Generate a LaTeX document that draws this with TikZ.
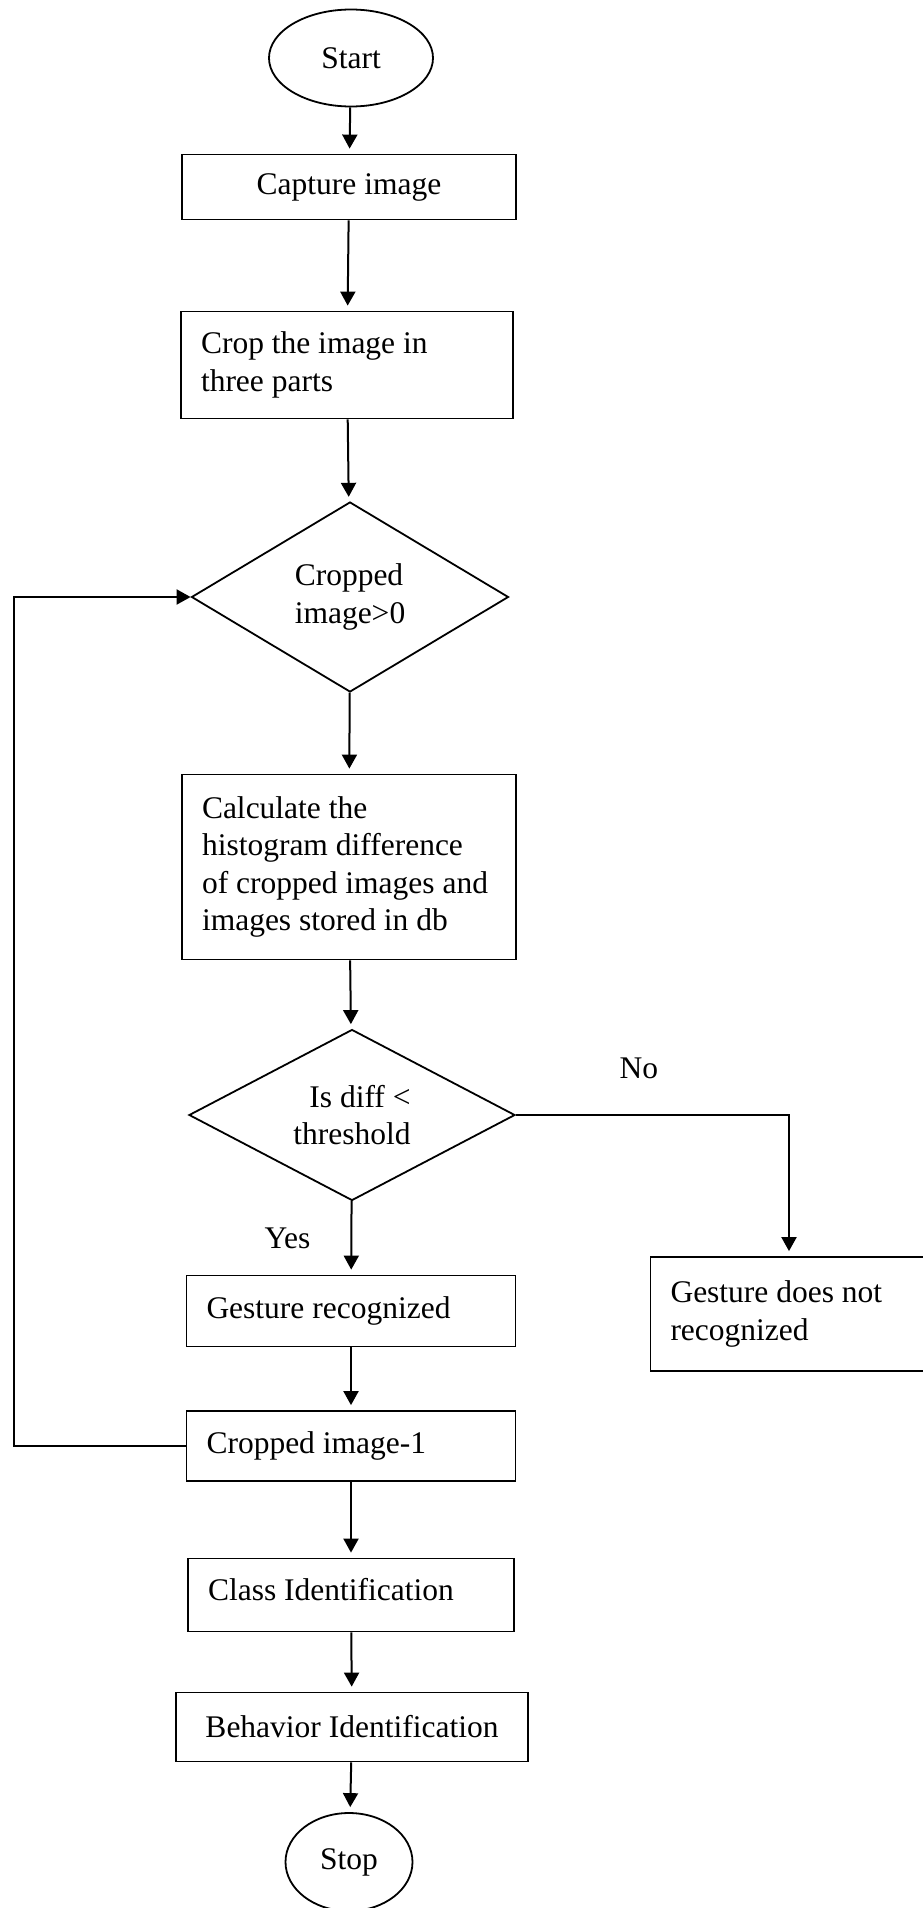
\documentclass[tikz,border=0pt]{standalone}
\usepackage{fontspec}
\setmainfont{Liberation Serif}
\usetikzlibrary{shapes.geometric, arrows.meta}

\tikzset{
    box/.style={draw, rectangle, line width=1.8pt, inner ysep=0pt},
    lbox/.style={box, align=flush left, inner xsep=20pt},
    term/.style={draw, ellipse, line width=1.8pt, inner sep=0pt},
    cond/.style={draw, diamond, shape aspect=2, line width=1.8pt, inner sep=0pt},
    arr/.style={line width=2pt, -{Triangle[length=14pt, width=15pt]}, shorten >=5pt},
    lbl/.style={inner sep=0pt}
}

\begin{document}
\begin{tikzpicture}[x=1pt, y=-1pt, font=\fontsize{31.5}{37.5}\selectfont]
    % Поле рисунка
    \useasboundingbox (0,0) rectangle (923,1908);

    % Блоки
    \node[term, minimum width=164pt, minimum height=97pt] (start) at (351,58) {Start};
    \node[box, minimum width=334pt, minimum height=65pt] (capture) at (349,187) {Capture image};
    \node[lbox, minimum width=332pt, minimum height=107pt, text width=292pt] (crop) at (347,365) {Crop the image in\\three parts};
    \node[cond, minimum width=317pt, minimum height=190pt, align=flush left] (dec1) at (350,597) {Cropped\\image>0};
    \node[lbox, minimum width=334pt, minimum height=185pt, text width=294pt] (calc) at (349,867) {Calculate the\\histogram difference\\of cropped images and\\images stored in db};
    \node[cond, minimum width=326pt, minimum height=171pt, align=flush right] (dec2) at (352,1115) {Is diff <\\threshold};
    \node[lbox, minimum width=329pt, minimum height=71pt, text width=289pt] (gr) at (351,1311) {Gesture recognized};
    \node[lbox, minimum width=285pt, minimum height=114pt, text width=245pt] (gn) at (793,1314) {Gesture does not\\recognized};
    \node[lbox, minimum width=329pt, minimum height=70pt, text width=289pt] (ci) at (351,1446) {Cropped image-1};
    \node[lbox, minimum width=326pt, minimum height=73pt, text width=286pt, text depth=12pt] (class) at (351,1595) {Class Identification};
    \node[box, minimum width=352pt, minimum height=69pt] (behav) at (352,1727) {Behavior Identification};
    \node[term, minimum width=127pt, minimum height=98pt] (stop) at (349,1862) {Stop};

    % Основной поток
    \foreach \a/\b in {start/capture, capture/crop, crop/dec1, dec1/calc, calc/dec2, gr/ci, ci/class, class/behav, behav/stop}
        \draw[arr] (\a) -- (\b);

    % Ветви условия
    \draw[arr] (dec2) -- node[lbl, left=40pt] {Yes} (gr);
    \coordinate (nobend) at (789,1115);
    \draw[arr] (dec2.east) -- node[lbl, above=35pt, pos=0.45] {No} (nobend) -- (nobend |- gn.north);

    % Возврат к проверке
    \coordinate (back) at (13.5,1442);
    \draw[arr, shorten >=0pt] (ci.west) -- (ci.west -| back) -- (back |- dec1.west) -- (dec1.west);
\end{tikzpicture}
\end{document}
